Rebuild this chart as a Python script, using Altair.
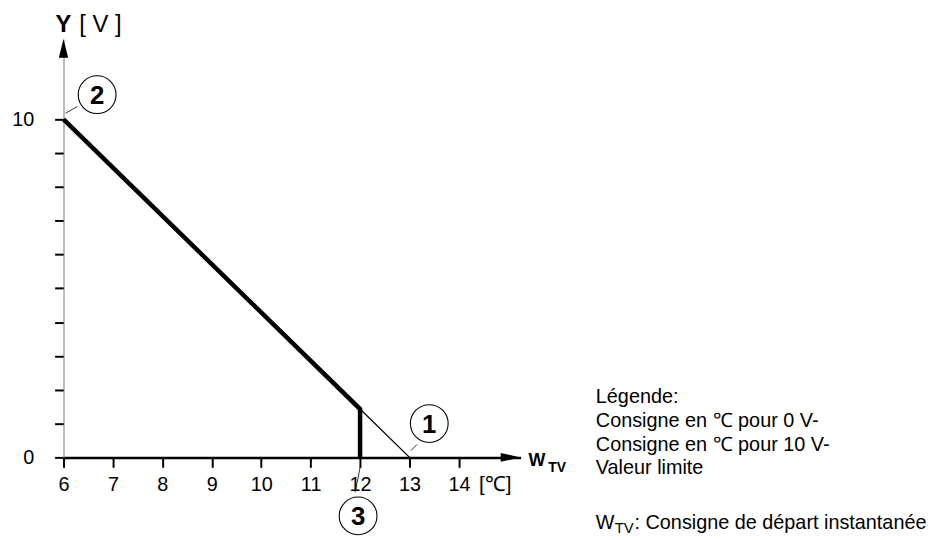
import altair as alt
import pandas as pd

# ---- data ----
X_TICKS = [6, 7, 8, 9, 10, 11, 12, 13, 14]
Y_TICKS = [0, 1, 2, 3, 4, 5, 6, 7, 8, 9, 10]
Y_LABELED = [0, 10]

CURVE_X = [6, 12, 12]          # setpoint characteristic (thick)
CURVE_Y = [10, 1.43, 0]
LIMIT_X = [12, 13]             # continuation to 0 V (thin)
LIMIT_Y = [1.43, 0]

MARKER_LABELS = ["2", "1", "3"]
MARKER_X = [6.68, 13.40, 11.96]
MARKER_Y = [10.73, 1.00, -1.73]

LEADER_X = [6.04, 13.03, 12.01]
LEADER_Y = [10.18, 0.20, -0.23]
LEADER_X2 = [6.28, 13.15, 11.90]
LEADER_Y2 = [10.38, 0.38, -1.03]

LEGEND_LINES = ["Légende:", "Consigne en ℃ pour 0 V-", "Consigne en ℃ pour 10 V-", "Valeur limite"]
LEGEND_Y = [1.61, 0.91, 0.20, -0.50]
LEGEND_X = 16.77

FONT = "Liberation Sans"
X_MAX = 6 + 461 / 49.857
Y_MAX = 422 / 34.1

XS = alt.Scale(domain=[6, X_MAX], nice=False, zero=False)
YS = alt.Scale(domain=[0, Y_MAX], nice=False, zero=False)

x_axis = alt.Axis(values=X_TICKS, domainColor="black", domainWidth=2.5, tickColor="black",
                  tickWidth=2, tickSize=10, labelFontSize=20, labelFont=FONT, labelColor="black",
                  labelPadding=7, grid=False, title=None, labelFlush=False, labelOverlap=False,
                  domainCap="butt")
y_axis = alt.Axis(values=Y_TICKS, domainColor="#777777", domainWidth=1, tickColor="black",
                  tickWidth=2, tickSize=9, labelFontSize=20, labelFont=FONT, labelColor="black",
                  labelPadding=21, grid=False, title=None, labelFlush=False, labelOverlap=False,
                  labelExpr="(datum.value == 0 || datum.value == 10) ? datum.label : ''")

curve = pd.DataFrame({"x": CURVE_X, "y": CURVE_Y, "o": list(range(len(CURVE_X)))})
limit = pd.DataFrame({"x": LIMIT_X, "y": LIMIT_Y})

thick = alt.Chart(curve).mark_line(color="black", strokeWidth=4.5, strokeJoin="miter",
                                   strokeCap="butt").encode(order="o:Q")

thin = alt.Chart(limit).mark_line(color="black", strokeWidth=1.3)

# arrow heads at the axis ends
arrow_x = alt.Chart(pd.DataFrame({"x": [X_MAX - 10 / 49.857], "y": [0]})).mark_point(
    shape="M-1,-0.45L1,0L-1,0.45Z", size=400, filled=True, color="black", opacity=1,
    strokeWidth=0)
arrow_y = alt.Chart(pd.DataFrame({"x": [6], "y": [Y_MAX - 9.5 / 34.1]})).mark_point(
    shape="M-0.5,1L0,-1L0.5,1Z", size=361, filled=True, color="black", opacity=1,
    strokeWidth=0)

markers = pd.DataFrame({"x": MARKER_X, "y": MARKER_Y, "t": MARKER_LABELS})
circles = alt.Chart(markers).mark_point(shape="circle", size=1452, filled=False, color="black",
                                        strokeWidth=1.1, opacity=1)
circle_txt = alt.Chart(markers).mark_text(font=FONT, fontSize=26, fontWeight="bold",
                                          color="black", baseline="middle", dy=1).encode(
    text="t:N")

leaders = pd.DataFrame({"x": LEADER_X, "y": LEADER_Y, "x2": LEADER_X2, "y2": LEADER_Y2})
leader = alt.Chart(leaders).mark_rule(color="black", strokeWidth=0.8).encode(
    x2="x2:Q", y2="y2:Q")


def label(text, x, y, size, weight="normal", align="left"):
    return alt.Chart(pd.DataFrame({"x": [x], "y": [y], "t": [text]})).mark_text(
        font=FONT, fontSize=size, fontWeight=weight, color="black", align=align,
        baseline="alphabetic").encode(text="t:N")


texts = [
    label("Y", 6.0, 12.58, 24, "bold", "center"),
    label("[ V ]", 6.32, 12.58, 24),
    label("W", 15.407, -0.264, 18, "bold"),
    label("TV", 15.808, -0.44, 14, "bold"),
    label("[℃]", 14.404, -0.997, 21),
]
for line, yv in zip(LEGEND_LINES, LEGEND_Y):
    texts.append(label(line, LEGEND_X, yv, 20))
texts.append(label("W", LEGEND_X, -2.11, 20))
texts.append(label("TV", 17.152, -2.23, 15))
texts.append(label(": Consigne de départ instantanée", 17.553, -2.11, 20))

chart = alt.layer(thick, thin, arrow_x, arrow_y, circles, circle_txt, leader, *texts).encode(
    x=alt.X("x:Q", scale=XS, axis=x_axis),
    y=alt.Y("y:Q", scale=YS, axis=y_axis),
).properties(
    width=461, height=422,
    autosize=alt.AutoSizeParams(type="none"),
    padding={"left": 56, "top": 29, "right": 409, "bottom": 79},
    background="white",
).configure_view(strokeWidth=0)

chart.save("out.html", embed_options={"renderer": "svg", "actions": False})
